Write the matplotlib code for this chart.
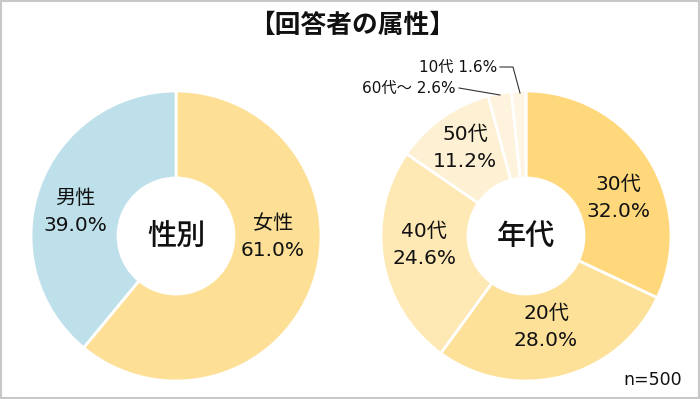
import matplotlib
matplotlib.use("Agg")
import matplotlib.pyplot as plt
from matplotlib.patches import Rectangle

plt.rcParams['font.family'] = ['DejaVu Sans', 'Noto Sans CJK JP']

# data
title = "【回答者の属性】"
gender_labels = ["女性", "男性"]
gender_values = [61.0, 39.0]
gender_colors = ["#FDE096", "#BEE0EB"]

age_labels = ["30代", "20代", "40代", "50代", "60代～", "10代"]
age_values = [32.0, 28.0, 24.6, 11.2, 2.6, 1.6]
age_colors = ["#FFD87C", "#FDE199", "#FEE8B4", "#FEF0D2", "#FEF3DC", "#FEF5E4"]

n_total = 500

W, H = 700, 399
fig = plt.figure(figsize=(W / 100, H / 100), dpi=100)
ax = fig.add_axes([0, 0, 1, 1])

R_OUT = 145
R_IN = 58
wp = dict(width=R_OUT - R_IN, edgecolor="white", linewidth=2)

# left donut (gender)
cx1, cy1 = 176, H - 236
ax.pie(gender_values, colors=gender_colors, startangle=90, counterclock=False,
       center=(cx1, cy1), radius=R_OUT, wedgeprops=wp, frame=True)

# right donut (age)
cx2, cy2 = 526, H - 236
ax.pie(age_values, colors=age_colors, startangle=90, counterclock=False,
       center=(cx2, cy2), radius=R_OUT, wedgeprops=wp, frame=True)

ax.set_xlim(0, W)
ax.set_ylim(0, H)
ax.set_aspect("equal")
ax.axis("off")

lbl = dict(ha="center", va="center", fontsize=14.5, linespacing=1.5, color="#111111")

# gender labels
ax.text(273, H - 237, f"{gender_labels[0]}\n{gender_values[0]:.1f}%", **lbl)
ax.text(75, H - 212, f"{gender_labels[1]}\n{gender_values[1]:.1f}%", **lbl)
ax.text(cx1, cy1, "性別", ha="center", va="center", fontsize=21, color="#111111",
        family=['Noto Sans CJK JP'], fontweight="medium")

# age labels
ax.text(618, H - 198, f"{age_labels[0]}\n{age_values[0]:.1f}%", **lbl)
ax.text(546, H - 327, f"{age_labels[1]}\n{age_values[1]:.1f}%", **lbl)
ax.text(424, H - 245, f"{age_labels[2]}\n{age_values[2]:.1f}%", **lbl)
ax.text(465, H - 148, f"{age_labels[3]}\n{age_values[3]:.1f}%", **lbl)
ax.text(cx2, cy2, "年代", ha="center", va="center", fontsize=21, color="#111111",
        family=['Noto Sans CJK JP'], fontweight="medium")

small = dict(ha="right", va="center", fontsize=11, color="#111111")
ax.text(497, H - 67, f"{age_labels[5]} {age_values[5]:.1f}%", **small)
ax.text(456, H - 88, f"{age_labels[4]} {age_values[4]:.1f}%", **small)
ax.plot([500, 513, 520], [H - 67, H - 67, H - 93], color="#333333", lw=0.8)
ax.plot([459, 500], [H - 88, H - 95], color="#333333", lw=0.8)

ax.text(W / 2 + 2, H - 25, title, ha="center", va="center", fontsize=18.5,
        fontweight="bold", color="#111111", family=['Noto Sans CJK JP'])
ax.text(682, H - 380, f"n={n_total}", ha="right", va="center", fontsize=12.5,
        color="#111111")

# outer border
ax.add_patch(Rectangle((1, 1), W - 2, H - 2, fill=False, edgecolor="#C8C8C8", lw=1.5))

fig.savefig("out.png", dpi=100)
